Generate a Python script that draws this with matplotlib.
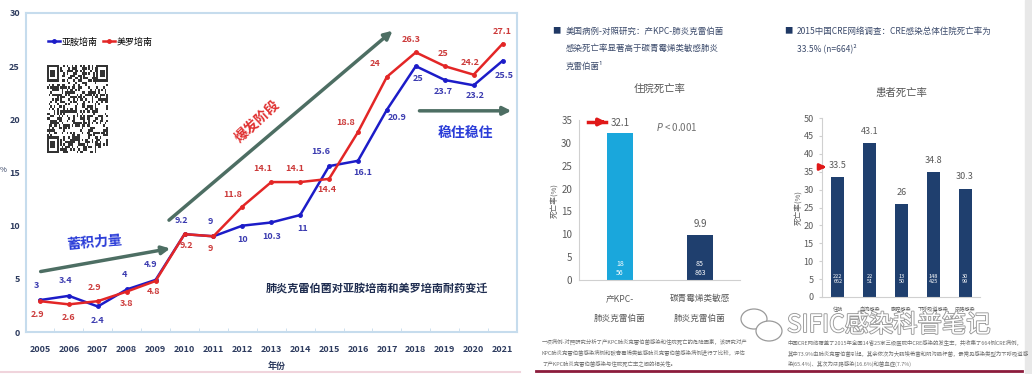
import numpy as np
import matplotlib
matplotlib.use("Agg")
import matplotlib.pyplot as plt
import matplotlib.patheffects as pe
from matplotlib.patches import Ellipse, Rectangle

plt.rcParams['font.family'] = ['Noto Sans CJK SC', 'DejaVu Sans']

W, H = 1032, 374


def fx(px):
    return px / W


def fy(py):
    return 1 - py / H


# ---- data ----
years = [str(y) for y in range(2005, 2022)]
imipenem = [3, 3.4, 2.4, 4, 4.9, 9.2, 9, 10, 10.3, 11, 15.6, 16.1, 20.9, 25, 23.7, 23.2, 25.5]
meropenem = [2.9, 2.6, 2.9, 3.8, 4.8, 9.2, 9, 11.8, 14.1, 14.1, 14.4, 18.8, 24, 26.3, 25, 24.2, 27.1]

kpc_groups = ['产KPC-\n肺炎克雷伯菌', '碳青霉烯类敏感\n肺炎克雷伯菌']
kpc_rates = [32.1, 9.9]
kpc_counts = ['18\n56', '85\n863']

cre_groups = ['住院', '血流感染', '腹腔感染', '下呼吸道感染', '尿路感染']
cre_rates = [33.5, 43.1, 26, 34.8, 30.3]
cre_counts = ['222\n662', '22\n51', '13\n50', '148\n425', '30\n99']

# label offsets (pixels) for the line chart value labels
imi_off = [(-3, 15), (-3, 15), (0, -14), (-2, 15), (-5, 15), (-3, 14), (-3, 15), (0, -14),
           (0, -14), (2, -13), (-8, 15), (5, -12), (10, -8), (2, -12), (-2, -12), (2, -10), (2, -15)]
mero_off = [(-2, -13), (0, -13), (-3, 14), (0, -12), (-2, -11), (2, -11), (-3, -12), (-10, 12),
            (-8, 14), (-5, 14), (-2, -11), (-12, 10), (-12, 13), (-5, 13), (-2, 13), (-3, 12), (0, 12)]

fig = plt.figure(figsize=(W / 100, H / 100), dpi=100)
fig.patch.set_facecolor('white')

# ---- left panel: line chart ----
ax = fig.add_axes([fx(25.5), fy(332), fx(517) - fx(25.5), fy(13) - fy(332)])
x = np.arange(len(years))
ax.plot(x, imipenem, color='#1c1cc8', lw=1.8, marker='o', ms=2.5, label='亚胺培南')
ax.plot(x, meropenem, color='#e32626', lw=1.8, marker='o', ms=2.5, label='美罗培南')
ax.set_xlim(-0.5, 16.5)
ax.set_ylim(0, 30)
ax.set_yticks([0, 5, 10, 15, 20, 25, 30])
ax.set_xticks(x)
ax.set_xticklabels(years)
ax.set_xticks(np.arange(-0.5, 17, 1), minor=True)
for s in ax.spines.values():
    s.set_color('#c6dced')
    s.set_linewidth(1.5)
ax.tick_params(axis='y', length=0, pad=4, labelsize=6.5, labelcolor='#2d3b5e')
ax.tick_params(axis='x', which='major', length=0, pad=9, labelsize=6.5, labelcolor='#2d3b5e')
ax.tick_params(axis='x', which='minor', direction='in', length=3, color='#c6dced')
for t in ax.get_xticklabels() + ax.get_yticklabels():
    t.set_fontweight('bold')

for i, v in enumerate(imipenem):
    ax.annotate(f'{v:g}', (i, v), xytext=imi_off[i], textcoords='offset pixels',
                ha='center', va='center', fontsize=6.5, color='#3b3bb0', fontweight='bold')
for i, v in enumerate(meropenem):
    ax.annotate(f'{v:g}', (i, v), xytext=mero_off[i], textcoords='offset pixels',
                ha='center', va='center', fontsize=6.5, color='#cc3a3a', fontweight='bold')

ax.legend(loc='center left', bbox_to_anchor=(0.03, 0.909), ncol=2, frameon=False,
          fontsize=6.5, handlelength=1.3, handletextpad=0.2, columnspacing=0.6)

arrow_kw = dict(arrowstyle='-|>', color='#4d6e63', lw=2.5, mutation_scale=12)
ax.annotate('', xy=(4.6, 7.9), xytext=(-0.07, 5.64), arrowprops=arrow_kw)
ax.annotate('', xy=(12.27, 28.5), xytext=(4.39, 10.35), arrowprops=arrow_kw)
ax.annotate('', xy=(16.4, 20.8), xytext=(13.03, 20.8), arrowprops=arrow_kw)

ax.text(1.9, 8.4, '蓄积力量', color='#2a3cd8', fontsize=10, fontweight='bold',
        rotation=5, ha='center', va='center')
ax.text(7.5, 19.8, '爆发阶段', color='#e03030', fontsize=10, fontweight='bold',
        rotation=43, ha='center', va='center')
ax.text(14.7, 18.7, '稳住稳住', color='#2a3cd8', fontsize=10, fontweight='bold',
        ha='center', va='center')
ax.text(11.66, 4.1, '肺炎克雷伯菌对亚胺培南和美罗培南耐药变迁', color='#1f2d50',
        fontsize=8, fontweight='bold', ha='center', va='center')

fig.text(fx(3), fy(170), '%', fontsize=5.5, color='#2d3b5e', ha='center', va='center')
fig.text(fx(277), fy(366), '年份', fontsize=6.5, color='#2d3b5e', fontweight='bold',
         ha='center', va='center')

# QR-like decoration
qax = fig.add_axes([fx(47), fy(153), fx(108) - fx(47), fy(65) - fy(153)])
n = 37
ii, jj = np.meshgrid(np.arange(n), np.arange(n), indexing='ij')
qr = ((((ii * 7 + jj * 13) ^ (ii * jj + 3 * ii)) % 5) < 2).astype(float)
for (r0, c0) in [(0, 0), (0, n - 7), (n - 7, 0)]:
    qr[r0:r0 + 8, c0:c0 + 8] = 0
    qr[r0:r0 + 7, c0:c0 + 7] = 1
    qr[r0 + 1:r0 + 6, c0 + 1:c0 + 6] = 0
    qr[r0 + 2:r0 + 5, c0 + 2:c0 + 5] = 1
qax.imshow(qr, cmap='Greys', aspect='auto', interpolation='nearest', vmin=0, vmax=1.2)
qax.axis('off')

# faint bottom line left
fig.add_artist(plt.Line2D([0, fx(520)], [fy(372), fy(372)], color='#f0d4dc', lw=1.5))

# ---- right panel ----
navy = '#1f3864'
txt = '#3b4a6b'
fig.text(fx(556), fy(31), '■', fontsize=6, color=navy, ha='center', va='center')
for k, line in enumerate(['美国病例-对照研究：产KPC-肺炎克雷伯菌',
                          '感染死亡率显著高于碳青霉烯类敏感肺炎',
                          '克雷伯菌¹']):
    fig.text(fx(566), fy(31 + 17.5 * k), line, fontsize=6.1, color=txt, ha='left', va='center')
fig.text(fx(788), fy(31), '■', fontsize=6, color=navy, ha='center', va='center')
fig.text(fx(797), fy(31), '2015中国CRE网络调查：CRE感染总体住院死亡率为', fontsize=6.1,
         color=txt, ha='left', va='center')
fig.text(fx(797), fy(48), '33.5% (n=664)²', fontsize=6.1, color=txt, ha='left', va='center')

gray_txt = '#5a5a5a'

# bar chart 1
b1 = fig.add_axes([fx(579), fy(280), fx(740) - fx(579), fy(120) - fy(280)])
xb = np.arange(len(kpc_groups))
b1.bar(xb, kpc_rates, width=0.33, color=['#1aa7dc', '#1f3f6e'])
b1.set_xlim(-0.51, 1.5)
b1.set_ylim(0, 35)
b1.set_yticks(range(0, 36, 5))
b1.set_xticks(xb)
b1.set_xticklabels(kpc_groups, linespacing=2.6)
for sname in ['top', 'right']:
    b1.spines[sname].set_visible(False)
for sname in ['left', 'bottom']:
    b1.spines[sname].set_color('#d0d0d0')
b1.tick_params(axis='y', length=0, pad=5, labelsize=7, labelcolor=gray_txt)
b1.tick_params(axis='x', length=0, pad=10, labelsize=6.2, labelcolor=gray_txt)
b1.set_ylabel('死亡率(%)', fontsize=5.5, color=gray_txt, labelpad=2)
for i, v in enumerate(kpc_rates):
    b1.text(i, v + 1.2, f'{v:g}', ha='center', va='bottom', fontsize=7, color=gray_txt)
    b1.text(i, 2.5, kpc_counts[i], ha='center', va='center', fontsize=5, color='white',
            linespacing=1.1)
b1.text(0.71, 33.5, '$P$ < 0.001', ha='center', va='center', fontsize=7, color='#707070')
fig.add_artist(plt.Line2D([fx(588), fx(606)], [fy(122), fy(122)], color='#e01818', lw=2.5))
b1.annotate('', xy=(fx(609), fy(122)), xycoords='figure fraction',
            xytext=(fx(598), fy(122)), textcoords='figure fraction',
            arrowprops=dict(arrowstyle='-|>', color='#e01818', lw=2.5, mutation_scale=10))
b1.set_title('住院死亡率', fontsize=7.5, color='#555555', pad=20)

# bar chart 2
b2 = fig.add_axes([fx(822), fy(297), fx(980) - fx(822), fy(118) - fy(297)])
xc = np.arange(len(cre_groups))
b2.bar(xc, cre_rates, width=0.41, color='#1f3f6e')
b2.set_xlim(-0.5, 4.47)
b2.set_ylim(0, 50)
b2.set_yticks(range(0, 51, 5))
b2.set_xticks(xc)
b2.set_xticklabels(cre_groups)
for sname in ['top', 'right']:
    b2.spines[sname].set_visible(False)
for sname in ['left', 'bottom']:
    b2.spines[sname].set_color('#d0d0d0')
b2.tick_params(axis='y', length=2, color='#d0d0d0', pad=4, labelsize=6.5, labelcolor=gray_txt)
b2.tick_params(axis='x', length=0, pad=7, labelsize=3.7, labelcolor=gray_txt)
b2.set_ylabel('死亡率(%)', fontsize=5.5, color=gray_txt, labelpad=1)
for i, v in enumerate(cre_rates):
    b2.text(i, v + 2, f'{v:g}', ha='center', va='bottom', fontsize=6.5, color=gray_txt)
    b2.text(i, 5, cre_counts[i], ha='center', va='center', fontsize=4, color='white',
            linespacing=1.1)
b2.annotate('', xy=(fx(829), fy(167)), xycoords='figure fraction',
            xytext=(fx(818), fy(167)), textcoords='figure fraction',
            arrowprops=dict(arrowstyle='-|>', color='#e01818', lw=2, mutation_scale=9))
b2.set_title('患者死亡率', fontsize=7.5, color='#555555', pad=16)

# footnotes
fn1 = ['一项病例-对照研究分析了产KPC肺炎克雷伯菌感染和住院死亡的危险因素，该研究对产',
       'KPC肺炎克雷伯菌感染病例和碳青霉烯类敏感肺炎克雷伯菌感染病例进行了比较，评估',
       '了产KPC肺炎克雷伯菌感染与住院死亡率之间的相关性。']
for k, line in enumerate(fn1):
    fig.text(fx(542), fy(342 + 10.5 * k), line, fontsize=3.9, color='#707070', va='center')
fn2 = ['中国CRE网络覆盖了2015年全国14省25家三级医院中CRE感染的发生率，共收集了664例CRE病例，',
       '其中73.9%由肺炎克雷伯菌引起，其余依次为大肠埃希菌和阴沟肠杆菌，最常见感染类型为下呼吸道感',
       '染(65.4%)、其次为尿路感染(16.6%)和菌血症(7.7%)']
for k, line in enumerate(fn2):
    fig.text(fx(788), fy(343 + 10.5 * k), line, fontsize=3.9, color='#707070', va='center')

# watermark
fig.text(fx(787), fy(325), 'SIFIC感染科普笔记', fontsize=17.5, color='white', va='center',
         path_effects=[pe.withStroke(linewidth=1.3, foreground='#9a9a9a')])
fig.add_artist(Ellipse((fx(754), fy(319)), fx(26), 20 / H, fill=False, ec='#9a9a9a', lw=0.9,
                       transform=fig.transFigure))
fig.add_artist(Ellipse((fx(769), fy(331)), fx(26), 20 / H, fc='white', ec='#9a9a9a', lw=0.9,
                       transform=fig.transFigure))

# bottom maroon line and right edge
fig.add_artist(plt.Line2D([fx(536), fx(1022)], [fy(371), fy(371)], color='#8c1c3c', lw=2))
fig.add_artist(Rectangle((fx(1025), 0), fx(7), 1, color='#e8e8e8', transform=fig.transFigure))

fig.savefig('out.png', dpi=100)
